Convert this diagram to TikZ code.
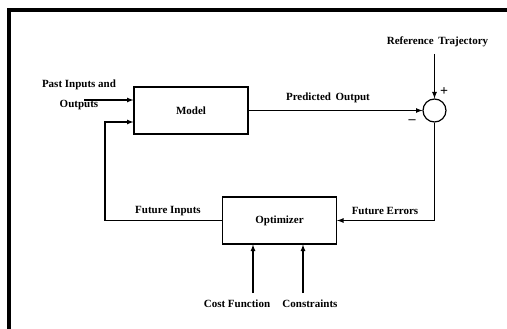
\documentclass[tikz,border=0pt]{standalone}
\usepackage{fontspec}
\setmainfont{Liberation Serif}
\usepackage{tikz}
\usetikzlibrary{arrows, positioning, calc}

\begin{document}
\begin{tikzpicture}[x=1pt, y=-1pt,
        every node/.style={font=\fontsize{11}{13}\selectfont\bfseries},
        block/.style={draw, line width=1.2pt, minimum width=114pt, minimum height=47pt, inner sep=0pt},
        sumnode/.style={draw, circle, line width=1.2pt, minimum size=23pt, inner sep=0pt},
        lbl/.style={inner sep=0pt},
        arr/.style={-latex, line width=1.2pt}
    ]
    \useasboundingbox (0,0) rectangle (507,329);

    % frame
    \draw[line width=4pt] (9,329) -- (9,10) -- (507,10);

    % Blocks
    \node[block] (model) at (191, 110.5) {Model};
    \node[block] (opt) at (279.5, 220.5) {Optimizer};
    \node[sumnode] (sum) at (434.5, 110.5) {};

    % Signs at the summing junction
    \node[lbl, font=\fontsize{14}{14}\selectfont\bfseries] (plus) at (444, 92) {+};
    \node[lbl, font=\fontsize{14}{14}\selectfont\bfseries] (minus) at (412, 122) {--};

    % Outside inputs
    \node[lbl] (reflbl) at (437.5, 42) {Reference\, Trajectory};
    \node[lbl, align=center] (pastlbl) at (79, 95) {Past Inputs and\\[7pt]Outputs};
    \node[lbl] (costlbl) at (237, 304) {Cost Function};
    \node[lbl] (conslbl) at (310, 304) {Constraints};
    \coordinate (refin) at (434.5, 54);
    \coordinate (pastin) at (84, 100);
    \coordinate (fb) at (105, 122);
    \coordinate (costin) at (253, 293);
    \coordinate (consin) at (303, 293);

    % Arrows
    \draw[arr] (pastin) -- (model.west |- pastin);
    \draw[arr] (opt.west) -| (fb) -- (model.west |- fb);
    \draw[arr] (model.east) -- (sum.west);
    \draw[arr] (refin) -- (sum.north);
    \draw[arr] (sum.south) |- (opt.east);
    \draw[arr] (costin) -- (costin |- opt.south);
    \draw[arr] (consin) -- (consin |- opt.south);

    % Signal labels
    \node[lbl] (predlbl) at (328, 98) {Predicted\, Output};
    \node[lbl] (futin) at (168, 211) {Future Inputs};
    \node[lbl] (futerr) at (385, 211) {Future Errors};
\end{tikzpicture}
\end{document}
